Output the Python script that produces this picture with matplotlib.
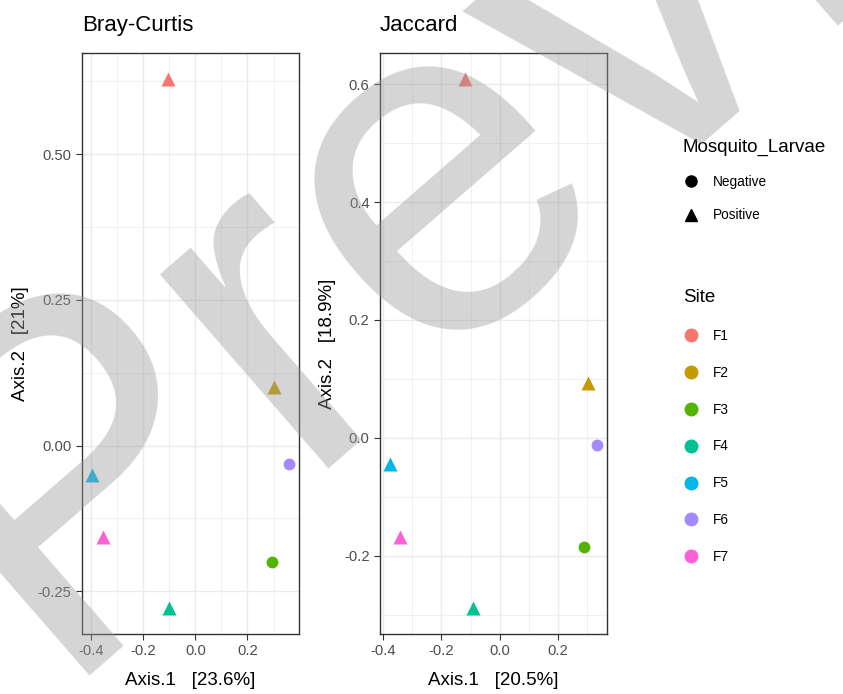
import matplotlib
matplotlib.use("Agg")
from matplotlib import pyplot
from matplotlib.lines import Line2D
import numpy as np

sites = ['F1', 'F2', 'F3', 'F4', 'F5', 'F6', 'F7']
larvae = ['Positive', 'Positive', 'Negative', 'Positive', 'Positive', 'Negative', 'Positive']
site_colors = ['#F8766D', '#C49A00', '#53B400', '#00C094', '#00B6EB', '#A58AFF', '#FB61D7']

bray_x = [-0.104, 0.303, 0.295, -0.100, -0.397, 0.360, -0.354]
bray_y = [0.628, 0.101, -0.199, -0.278, -0.050, -0.031, -0.157]
jac_x = [-0.120, 0.303, 0.290, -0.093, -0.376, 0.334, -0.342]
jac_y = [0.608, 0.093, -0.185, -0.288, -0.045, -0.012, -0.168]

bray_xticks = [-0.4, -0.2, 0.0, 0.2]
bray_yticks = [-0.25, 0.0, 0.25, 0.50]
jac_xticks = [-0.4, -0.2, 0.0, 0.2]
jac_yticks = [-0.2, 0.0, 0.2, 0.4, 0.6]

pyplot.rcParams['font.family'] = ['Liberation Sans', 'DejaVu Sans']

shapes = {'Negative': 'o', 'Positive': '^'}
grey20 = '#333333'
grey30 = '#4D4D4D'
grey92 = '#EBEBEB'

fig = pyplot.figure(figsize=(8.43, 6.94), dpi=100)
ax1 = fig.add_axes([82/843, 1-634/694, 217/843, 581/694])
ax2 = fig.add_axes([380/843, 1-634/694, 227/843, 581/694])


def lims(v):
    lo, hi = min(v), max(v)
    r = hi - lo
    return lo - 0.05*r, hi + 0.05*r


def panel(ax, xs, ys, xt, yt, xfmt, yfmt, title, xlab, ylab):
    for j in range(len(sites)):
        ax.plot(xs[j], ys[j], marker=shapes[larvae[j]], ls='', color=site_colors[j],
                markersize=9.5 if larvae[j] == 'Positive' else 8.5, mec='none', zorder=3)
    ax.set_xticks(xt)
    ax.set_yticks(yt)
    ax.set_xticklabels([xfmt % v for v in xt])
    ax.set_yticklabels([yfmt % v for v in yt])
    dx = (xt[1]-xt[0])/2
    dy = (yt[1]-yt[0])/2
    ax.set_xticks(np.arange(xt[0]-dx, xt[-1]+2*dx, 2*dx), minor=True)
    ax.set_yticks(np.arange(yt[0]-dy, yt[-1]+2*dy, 2*dy), minor=True)
    # limits after the ticks, set_xticks would widen them
    ax.set_xlim(*lims(xs))
    ax.set_ylim(*lims(ys))
    ax.tick_params(which='minor', length=0)
    ax.tick_params(which='major', length=4.5, width=0.8, color=grey20,
                   labelsize=10.6, labelcolor=grey30, pad=3)
    ax.grid(True, which='major', color=grey92, lw=1.0)
    ax.grid(True, which='minor', color=grey92, lw=0.5)
    ax.set_axisbelow(True)
    for s in ax.spines.values():
        s.set_color(grey20)
        s.set_linewidth(1.0)
    ax.set_title(title, loc='left', fontsize=16, pad=16)
    ax.set_xlabel(xlab, fontsize=13.5, labelpad=10)
    ax.set_ylabel(ylab, fontsize=13.5, labelpad=6)


panel(ax1, bray_x, bray_y, bray_xticks, bray_yticks, '%.1f', '%.2f',
      'Bray-Curtis', 'Axis.1   [23.6%]', 'Axis.2   [21%]')
panel(ax2, jac_x, jac_y, jac_xticks, jac_yticks, '%.1f', '%.1f',
      'Jaccard', 'Axis.1   [20.5%]', 'Axis.2   [18.9%]')

h1 = [Line2D([], [], marker=shapes[n], ls='', color='black', markersize=9 if n == 'Positive' else 8)
      for n in ['Negative', 'Positive']]
leg1 = fig.legend(h1, ['Negative', 'Positive'], title='Mosquito_Larvae', loc='upper left',
                  bbox_to_anchor=(683/843, 1-139/694), frameon=False, fontsize=9.8,
                  title_fontsize=13.5, alignment='left', labelspacing=1.4,
                  handletextpad=1.0, handlelength=1.2, borderaxespad=0, borderpad=0)
h2 = [Line2D([], [], marker='o', ls='', color=c, markersize=9) for c in site_colors]
leg2 = fig.legend(h2, sites, title='Site', loc='upper left',
                  bbox_to_anchor=(683/843, 1-289/694), frameon=False, fontsize=9.8,
                  title_fontsize=13.5, alignment='left', labelspacing=1.68,
                  handletextpad=1.0, handlelength=1.2, borderaxespad=0, borderpad=0)

# watermark
fig.text(620/843, 1-14/694, 'Preview', fontsize=350, family='Liberation Sans',
         color='#9a9a9a', alpha=0.42, rotation=41, rotation_mode='anchor',
         ha='center', va='center', zorder=10)

fig.savefig('out.png', dpi=100)
